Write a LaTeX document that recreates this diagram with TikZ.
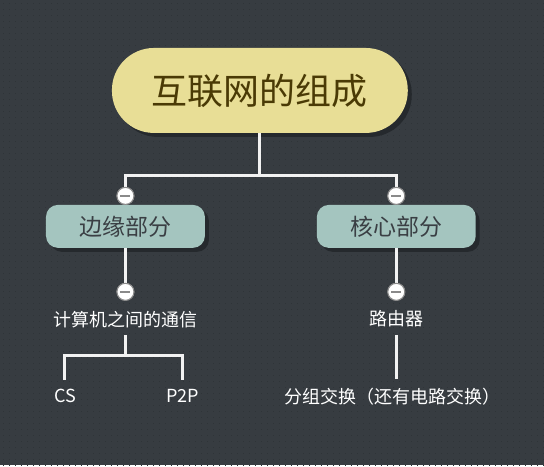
\documentclass[tikz,border=0pt]{standalone}
\usepackage{fontspec}
\setmainfont{Noto Sans CJK SC}
\definecolor{bg}{HTML}{373C41}
\definecolor{bgdot}{HTML}{2F3438}
\definecolor{rootfill}{HTML}{E8DE96}
\definecolor{roottext}{HTML}{4A3A05}
\definecolor{subfill}{HTML}{A4C5BF}
\definecolor{subtext}{HTML}{3A3F44}
\definecolor{shadowc}{HTML}{25292D}
\definecolor{linec}{HTML}{F2F2F2}
\definecolor{knobedge}{HTML}{8A8A8A}
\begin{document}
\begin{tikzpicture}[x=1pt,y=-1pt,
  conn/.style={draw=linec,line width=3pt},
  rootbox/.style={rounded corners=42pt,fill=rootfill,minimum width=296pt,minimum height=85pt,inner sep=0pt,font=\fontsize{36}{40}\selectfont,text=roottext},
  subbox/.style={rounded corners=12pt,fill=subfill,minimum width=159pt,minimum height=43pt,inner sep=0pt,font=\fontsize{23}{26}\selectfont,text=subtext},
  leaf/.style={inner sep=0pt,text=white,font=\fontsize{18}{21}\selectfont},
  knob/.style={circle,fill=white,draw=knobedge,line width=1pt,minimum size=17pt,inner sep=0pt,
    path picture={\draw[knobedge,line width=1.6pt] ([xshift=-5pt]path picture bounding box.center) -- ([xshift=5pt]path picture bounding box.center);}}]
\fill[bg] (0,0) rectangle (544,465);
\foreach \i in {0,...,90}{\foreach \j in {0,...,77}{\fill[bgdot] (3+6*\i,3+6*\j) rectangle ++(1.3,1.3);}}
\useasboundingbox (0,0) rectangle (544,465);
% shadows
\fill[shadowc,rounded corners=42pt] (116,52) rectangle (412,137);
\fill[shadowc,rounded corners=12pt] (50,209) rectangle (209,252);
\fill[shadowc,rounded corners=12pt] (321,209) rectangle (480,252);
% nodes
\node[rootbox] (root) at (260,90.5) {互联网的组成};
\node[subbox] (edge) at (125.5,226.5) {边缘部分};
\node[subbox] (core) at (396.5,226.5) {核心部分};
\node[knob] (k1) at (125.5,196) {};
\node[knob] (k2) at (396.5,196) {};
\node[knob] (k3) at (125.5,292) {};
\node[knob] (k4) at (396.5,292) {};
\node[leaf] (comm) at (125.5,320) {计算机之间的通信};
\node[leaf] (router) at (396.5,319) {路由器};
\node[leaf] (cs) at (65,396) {CS};
\node[leaf] (p2p) at (183,396) {P2P};
\node[leaf] (pkt) at (393,397) {分组交换（还有电路交换）};
\coordinate (j1) at (260,176);
\coordinate (j2) at (125.5,356);
\coordinate (c0) at (125.5,335);
\coordinate (ccs) at (65,380);
\coordinate (cp2p) at (183,380);
\coordinate (r0) at (396.5,335);
\coordinate (r1) at (396.5,379);
% connectors
\draw[conn] (root.south) -- (j1);
\draw[conn] (j1) -| (k1.north);
\draw[conn] (j1) -| (k2.north);
\draw[conn] (edge.south) -- (k3.north);
\draw[conn] (core.south) -- (k4.north);
\draw[conn] (c0) -- (j2);
\draw[conn] (j2) -| (ccs);
\draw[conn] (j2) -| (cp2p);
\draw[conn] (r0) -- (r1);
% knobs on top
\node[knob] at (k1) {};
\node[knob] at (k2) {};
\node[knob] at (k3) {};
\node[knob] at (k4) {};
\end{tikzpicture}
\end{document}
